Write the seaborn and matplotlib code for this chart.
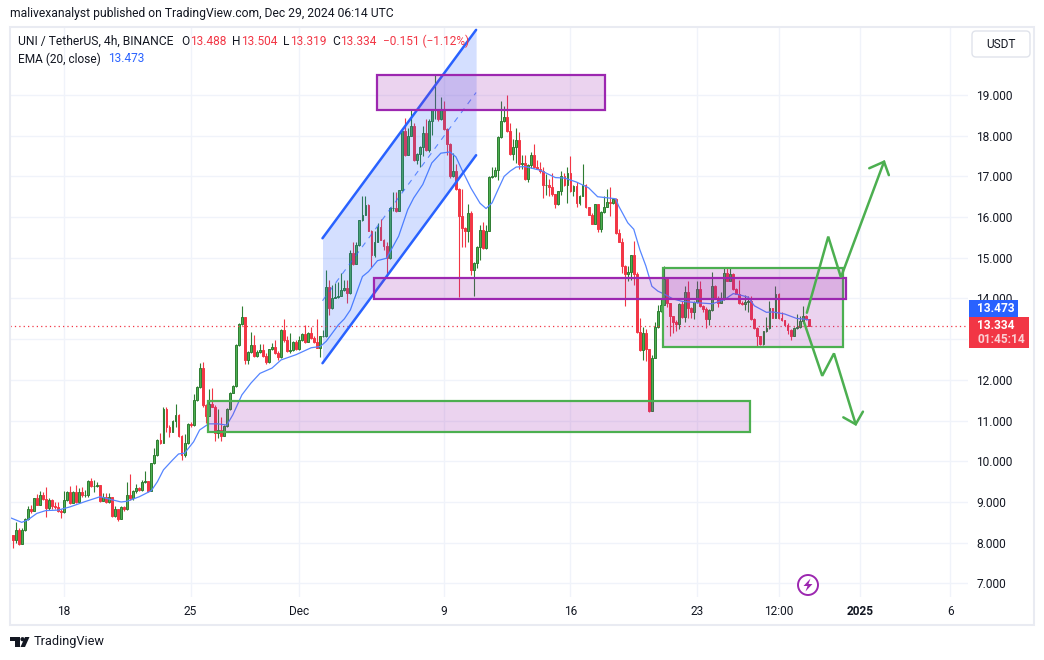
#### UNI / USDT 4h chart with drawn zones and channel
import matplotlib
matplotlib.use("Agg")
import matplotlib.pyplot as plt
from matplotlib.colors import to_rgba
from matplotlib.patches import Circle, FancyBboxPatch, Polygon, Rectangle
import numpy as np
import pandas as pd
import seaborn as sns

# candle values, one per 4h bar, oldest first
closes = [
    8.07, 8.31, 7.98, 8.31, 8.58, 8.82, 8.79, 9.09, 8.93, 9.17,
    9.07, 8.86, 9.05, 8.89, 8.87, 8.79, 8.75, 9.05, 9.25, 8.98,
    9.25, 9.00, 9.25, 9.16, 9.17, 9.51, 9.39, 9.39, 9.41, 9.03,
    9.12, 8.99, 9.12, 8.66, 8.82, 8.59, 8.88, 8.82, 9.16, 9.11,
    9.26, 9.34, 9.30, 9.50, 9.51, 9.28, 9.95, 10.15, 10.52, 10.46,
    11.28, 10.85, 10.73, 10.99, 11.14, 10.61, 10.16, 10.44, 10.91, 10.89,
    11.51, 11.82, 12.29, 11.38, 11.12, 11.41, 11.34, 10.70, 10.77, 10.62,
    10.87, 11.28, 11.69, 11.84, 12.85, 13.38, 13.54, 12.49, 12.69, 12.85,
    12.59, 12.69, 12.74, 12.59, 12.43, 12.75, 12.80, 12.67, 12.56, 13.22,
    12.97, 12.70, 12.74, 12.94, 12.75, 12.97, 13.13, 12.94, 13.15, 13.02,
    12.94, 12.79, 13.07, 13.08, 14.28, 13.76, 14.02, 14.03, 14.07, 14.20,
    14.26, 14.13, 15.11, 14.85, 15.31, 15.92, 16.06, 16.30, 15.67, 15.07,
    15.40, 15.75, 15.44, 15.28, 15.00, 16.22, 16.22, 16.16, 16.66, 18.11,
    17.53, 18.00, 18.25, 17.41, 17.56, 17.72, 18.07, 17.64, 18.36, 18.64,
    18.64, 18.41, 18.64, 18.16, 17.80, 17.00, 17.13, 16.69, 16.02, 15.74,
    15.67, 16.11, 14.69, 14.87, 15.26, 15.69, 15.23, 15.67, 16.98, 17.00,
    17.16, 17.97, 18.35, 18.46, 18.11, 17.54, 17.73, 17.90, 17.30, 17.34,
    16.93, 17.29, 17.52, 17.22, 17.19, 17.13, 16.78, 16.80, 16.75, 16.56,
    16.31, 16.64, 17.02, 16.78, 17.09, 16.64, 16.77, 16.34, 16.53, 16.80,
    16.24, 16.06, 15.84, 16.31, 15.70, 16.13, 16.25, 16.38, 16.35, 16.45,
    15.60, 15.40, 14.81, 14.61, 14.66, 15.06, 14.61, 13.17, 12.73, 13.15,
    12.75, 11.23, 12.54, 13.29, 13.70, 13.85, 14.48, 13.89, 13.56, 13.43,
    13.38, 13.87, 13.54, 14.16, 13.76, 13.66, 13.91, 14.24, 13.82, 13.74,
    13.49, 13.72, 14.31, 14.01, 13.90, 13.98, 14.62, 14.44, 14.60, 14.23,
    14.12, 13.89, 13.87, 13.91, 13.93, 13.49, 13.27, 13.07, 12.89, 13.20,
    13.27, 13.76, 13.53, 14.12, 13.51, 13.46, 13.35, 13.23, 13.07, 13.27,
    13.29, 13.44, 13.58, 13.488, 13.334,
]
highs = [
    8.18, 8.50, 8.35, 8.35, 8.60, 8.90, 8.92, 9.11, 9.19, 9.26,
    9.24, 9.37, 9.11, 9.07, 9.00, 9.01, 8.84, 9.26, 9.26, 9.39,
    9.28, 9.42, 9.35, 9.37, 9.30, 9.54, 9.60, 9.54, 9.48, 9.42,
    9.23, 9.23, 9.21, 9.07, 8.90, 8.84, 8.90, 8.90, 9.48, 9.70,
    9.29, 9.44, 9.36, 9.54, 9.75, 9.52, 9.97, 10.32, 10.56, 10.69,
    11.33, 11.33, 10.88, 11.02, 11.41, 11.16, 10.65, 10.66, 10.93, 10.96,
    11.66, 11.85, 12.41, 12.44, 11.41, 11.78, 11.80, 11.38, 11.28, 11.08,
    10.89, 11.30, 11.71, 11.87, 12.87, 13.39, 13.82, 13.54, 12.70, 13.18,
    13.10, 12.74, 12.89, 12.89, 12.66, 12.77, 12.90, 12.98, 12.70, 13.25,
    13.50, 13.07, 13.15, 12.95, 12.97, 13.08, 13.15, 13.35, 13.17, 13.31,
    13.07, 13.49, 13.08, 13.23, 14.69, 14.46, 14.33, 14.39, 14.41, 14.62,
    14.46, 14.46, 15.18, 15.38, 15.38, 15.93, 16.51, 16.53, 16.33, 15.69,
    15.65, 15.85, 15.95, 15.46, 15.40, 16.25, 16.62, 16.62, 16.67, 18.13,
    18.43, 18.19, 18.64, 18.30, 17.57, 17.74, 18.25, 18.41, 18.41, 18.66,
    19.48, 18.66, 18.95, 18.85, 18.18, 17.82, 17.57, 17.31, 16.71, 16.69,
    15.75, 16.33, 16.14, 14.89, 15.28, 15.81, 15.87, 15.81, 17.00, 17.23,
    17.23, 17.98, 18.85, 18.74, 18.99, 18.30, 17.91, 18.18, 18.10, 17.52,
    17.52, 17.30, 17.60, 17.79, 17.40, 17.35, 17.24, 17.07, 16.94, 17.09,
    16.57, 16.65, 17.12, 17.09, 17.24, 17.50, 16.79, 16.86, 16.55, 17.30,
    16.82, 16.25, 16.11, 16.33, 16.33, 16.15, 16.53, 16.68, 16.75, 16.47,
    16.48, 15.71, 15.49, 14.83, 14.80, 15.07, 15.42, 14.65, 13.52, 13.29,
    13.25, 12.76, 12.62, 13.43, 13.85, 13.98, 14.80, 14.53, 13.90, 13.58,
    13.46, 13.89, 13.93, 14.30, 14.42, 13.79, 13.93, 14.42, 14.42, 13.84,
    13.79, 13.74, 14.65, 14.33, 14.05, 14.17, 14.76, 14.76, 14.76, 14.62,
    14.25, 14.46, 13.93, 14.09, 14.05, 14.05, 13.51, 13.29, 13.08, 13.21,
    13.54, 13.95, 13.76, 14.30, 14.13, 13.67, 13.48, 13.39, 13.25, 13.29,
    13.62, 13.58, 13.82, 13.60, 13.504,
]
lows = [
    7.88, 8.00, 7.94, 7.98, 8.29, 8.56, 8.72, 8.79, 8.92, 8.93,
    9.05, 8.64, 8.80, 8.82, 8.82, 8.76, 8.61, 8.74, 9.03, 8.95,
    8.97, 8.97, 9.00, 9.13, 9.13, 9.13, 9.37, 9.25, 9.36, 9.01,
    9.02, 8.97, 8.98, 8.64, 8.64, 8.54, 8.59, 8.79, 8.80, 9.05,
    9.05, 9.23, 9.26, 9.28, 9.46, 9.25, 9.26, 9.93, 10.13, 10.43,
    10.44, 10.73, 10.59, 10.71, 10.85, 10.59, 10.02, 10.10, 10.43, 10.85,
    10.87, 11.49, 11.80, 11.34, 10.95, 11.11, 11.33, 10.51, 10.57, 10.51,
    10.62, 10.85, 11.26, 11.67, 11.82, 12.84, 13.36, 12.39, 12.39, 12.67,
    12.56, 12.57, 12.67, 12.57, 12.39, 12.41, 12.74, 12.64, 12.49, 12.54,
    12.92, 12.68, 12.67, 12.72, 12.74, 12.74, 12.95, 12.90, 12.93, 13.00,
    12.90, 12.78, 12.57, 13.05, 13.05, 13.60, 13.75, 14.00, 14.02, 14.05,
    14.18, 13.90, 14.11, 14.83, 14.84, 15.30, 15.90, 16.04, 15.66, 14.77,
    15.03, 15.39, 15.43, 15.20, 14.50, 14.98, 16.16, 16.13, 16.15, 16.64,
    17.51, 17.52, 17.98, 17.37, 17.31, 17.23, 17.49, 17.62, 17.59, 18.02,
    18.41, 18.35, 18.39, 18.15, 17.53, 16.96, 16.98, 16.67, 14.03, 15.26,
    15.26, 15.38, 14.58, 14.05, 14.75, 14.95, 15.21, 15.21, 15.77, 16.97,
    16.98, 16.90, 17.95, 18.34, 18.10, 17.52, 17.40, 17.32, 17.19, 17.17,
    16.91, 16.86, 17.20, 17.20, 17.17, 17.09, 16.47, 16.55, 16.52, 16.52,
    16.23, 16.30, 16.55, 16.76, 16.35, 16.62, 16.53, 16.25, 16.29, 16.52,
    16.22, 16.05, 15.82, 15.83, 15.63, 15.63, 16.11, 16.24, 16.02, 16.33,
    15.58, 15.38, 14.63, 13.81, 14.43, 14.45, 14.34, 13.15, 12.71, 12.48,
    12.46, 11.22, 11.23, 12.53, 13.27, 13.68, 13.84, 13.79, 13.07, 13.15,
    13.19, 13.25, 13.52, 13.43, 13.52, 13.52, 13.49, 13.89, 13.80, 13.68,
    13.27, 13.35, 13.70, 14.00, 13.79, 13.89, 13.97, 14.43, 14.44, 14.21,
    14.10, 13.87, 13.85, 13.72, 13.68, 13.48, 13.25, 12.84, 12.85, 12.86,
    13.18, 13.25, 13.51, 13.51, 13.49, 13.44, 13.34, 13.13, 12.97, 13.07,
    13.25, 13.27, 13.40, 13.46, 13.319,
]
first_open = 8.18

# EMA read at a subset of bars
ema_bars = [
    -1, 3, 5, 8, 11, 15, 19, 24, 29, 32, 36, 38, 42, 46, 48, 50, 53, 55, 57, 60,
    62, 65, 68, 71, 73, 76, 79, 82, 86, 89, 94, 99, 102, 104, 106, 108, 110, 112,
    116, 118, 121, 124, 128, 131, 133, 136, 139, 142, 145, 147, 149, 152, 155,
    157, 159, 161, 163, 165, 167, 170, 175, 180, 183, 187, 191, 194, 200, 201,
    204, 206, 208, 210, 212, 214, 216, 219, 222, 228, 232, 236, 239, 241, 244,
    246, 250, 252, 256, 260, 263, 264,
]
ema_values = [
    8.62, 8.50, 8.56, 8.72, 8.79, 8.80, 8.88, 9.01, 9.13, 9.07, 9.00, 9.02, 9.13,
    9.28, 9.50, 9.79, 10.03, 10.18, 10.20, 10.48, 10.77, 10.92, 10.92, 10.89,
    11.14, 11.63, 11.92, 12.16, 12.29, 12.49, 12.62, 12.79, 12.82, 12.95, 13.15,
    13.35, 13.50, 13.72, 14.54, 14.66, 14.93, 14.99, 15.53, 16.18, 16.47, 16.80,
    17.33, 17.57, 17.60, 17.48, 17.16, 16.71, 16.34, 16.21, 16.35, 16.68, 17.00,
    17.13, 17.23, 17.24, 17.15, 16.97, 16.96, 16.86, 16.72, 16.50, 16.45, 16.27,
    15.86, 15.70, 15.20, 14.80, 14.30, 14.18, 14.11, 13.99, 13.93, 13.89, 13.87,
    13.97, 14.12, 14.09, 14.03, 13.82, 13.66, 13.67, 13.62, 13.51, 13.49, 13.473,
]

# drawn objects, in (bar, price)
zones_purple = [(120.8, 196.5, 18.63, 19.49), (119.8, 276.4, 13.98, 14.50)]
zones_green = [(64.7, 244.6, 10.72, 11.49), (215.6, 275.5, 12.82, 14.75)]
channel_bars = [102.75, 153.7]
channel_upper = [15.48, 20.60]
channel_lower = [12.41, 17.52]
up_path_bars = [263.4, 270.5, 274.7, 289.0]
up_path_prices = [13.65, 15.52, 14.52, 17.36]
up_head_bars = [284.1, 289.0, 290.6]
up_head_prices = [17.20, 17.36, 17.03]
down_path_bars = [262.5, 268.5, 272.4, 279.6]
down_path_prices = [13.41, 12.10, 12.65, 10.91]
down_head_bars = [275.5, 279.6, 282.0]
down_head_prices = [11.08, 10.91, 11.22]

price_ticks = list(range(7, 20))
hidden_price_label = 13  # sits behind the last price badge
time_tick_bars = [17, 59, 95, 143, 185, 227, 254, 281, 311]
time_tick_labels = ["18", "25", "Dec", "9", "16", "23", "12:00", "2025", "6"]
last_price = 13.334
ema_last = 13.473

GREEN = "#4caf50"
GREEN_EDGE = "#2e7d32"
RED = "#f23645"
BLUE = "#2962ff"
PURPLE = "#9c27b0"
INK = "#131722"
GRID = "#f0f3fa"
W, H = 1044, 660

sns.set_theme(style="white")
plt.rcParams["font.family"] = ["Roboto", "DejaVu Sans"]

df = pd.DataFrame({"close": closes, "high": highs, "low": lows})
df["open"] = [first_open] + closes[:-1]
df["bar"] = np.arange(len(df))
up = df[df["close"] >= df["open"]]
down = df[df["close"] < df["open"]]

fig = plt.figure(figsize=(W / 100, H / 100), dpi=100, facecolor="white")
ax = fig.add_axes([10 / W, 1 - 597 / H, 958 / W, 570 / H])
ax.set_xlim(-0.9, 316.85)
ax.set_ylim(6.666, 20.67)

ax.set_xticks(time_tick_bars, time_tick_labels)
ax.set_yticks(price_ticks, ["" if p == hidden_price_label else f"{p:.3f}" for p in price_ticks])
ax.yaxis.tick_right()
ax.tick_params(axis="both", length=0, labelsize=8.6, labelcolor=INK)
ax.tick_params(axis="x", pad=5.5)
ax.tick_params(axis="y", pad=6)
ax.get_xticklabels()[time_tick_labels.index("2025")].set_fontweight("bold")
ax.grid(True, color=GRID, linewidth=1)
ax.set_axisbelow(True)
for spine in ax.spines.values():
    spine.set_visible(False)

# candles, red first so the darker green edges stay visible
ax.vlines(down["bar"], down["low"], down["high"], color=RED, linewidth=0.8, zorder=2)
ax.vlines(up["bar"], up["low"], up["high"], color=GREEN_EDGE, linewidth=0.8, zorder=2)
ax.bar(down["bar"], down["close"] - down["open"], bottom=down["open"], width=0.62,
       color=RED, edgecolor=RED, linewidth=0.7, zorder=3)
ax.bar(up["bar"], up["close"] - up["open"], bottom=up["open"], width=0.62,
       color=GREEN, edgecolor=GREEN_EDGE, linewidth=0.7, zorder=3)

sns.lineplot(x=ema_bars, y=ema_values, color="#5585ff", linewidth=0.9,
             estimator=None, sort=False, ax=ax, zorder=4)
ax.axhline(last_price, color=RED, linestyle=(0, (1, 2.5)), linewidth=0.9, zorder=4)

# channel
ax.fill_between(channel_bars, channel_lower, channel_upper, color=BLUE, alpha=0.2,
                linewidth=0, zorder=5)
for edge in (channel_upper, channel_lower):
    ax.plot(channel_bars, edge, color=BLUE, linewidth=1.8, zorder=6)
channel_mid = [(a + b) / 2 for a, b in zip(channel_upper, channel_lower)]
ax.plot(channel_bars, channel_mid, color=BLUE, linewidth=0.8, alpha=0.7,
        linestyle=(0, (5, 5)), zorder=6)

# zones
zone_fill = to_rgba(PURPLE, 0.2)
for zones, edge_colour in ((zones_green, GREEN), (zones_purple, PURPLE)):
    for left, right, bottom, top in zones:
        ax.add_patch(Rectangle((left, bottom), right - left, top - bottom,
                               facecolor=zone_fill, edgecolor=edge_colour,
                               linewidth=1.6, zorder=7))

# arrows
for xs, ys in ((up_path_bars, up_path_prices), (up_head_bars, up_head_prices),
               (down_path_bars, down_path_prices), (down_head_bars, down_head_prices)):
    ax.plot(xs, ys, color=GREEN, linewidth=1.8, solid_joinstyle="miter", zorder=8)

# page furniture is placed in pixels on a full size overlay
ov = fig.add_axes([0, 0, 1, 1], zorder=5)
ov.set_xlim(0, W)
ov.set_ylim(H, 0)
ov.axis("off")
ov.patch.set_alpha(0)

ov.add_patch(Rectangle((10, 27), 1024, 598, fill=False, edgecolor="#e9ebf2", linewidth=1.5))


def put(x, y, s, color=INK, size=8.6, **kwargs):
    ov.text(x, y, s, color=color, fontsize=size, va="center", **kwargs)


put(10, 14, "malivexanalyst published on TradingView.com, Dec 29, 2024 06:14 UTC", size=8.7)
put(18, 41.5, "UNI / TetherUS, 4h, BINANCE", size=8.75)
for x, s in ((181, "O"), (232, "H"), (283, "L"), (332, "C")):
    put(x, 41.5, s)
for x, s in ((190, "13.488"), (241, "13.504"), (290, "13.319"), (340, "13.334"),
             (383, "\u22120.151 (\u22121.12%)")):
    put(x, 41.5, s, color=RED)
put(18, 59, "EMA (20, close)")
put(108, 59, f"{ema_last:.3f}", color=BLUE)

# currency button
ov.add_patch(FancyBboxPatch((974, 33), 54, 22, boxstyle="round,pad=2,rounding_size=4",
                            facecolor="white", edgecolor="#e0e3eb", linewidth=1))
put(1001, 44.5, "USDT", ha="center")

# price badges
ov.add_patch(Rectangle((969, 300), 48.5, 16.7, facecolor=BLUE, edgecolor="none"))
put(977, 308.5, f"{ema_last:.3f}", color="white", fontweight="bold")
ov.add_patch(Rectangle((969, 317), 60, 30.7, facecolor=RED, edgecolor="none"))
put(977, 325.5, f"{last_price:.3f}", color="white", fontweight="bold")
put(977, 339.5, "01:45:14", color="#fbd0d4", fontweight="bold")

# lightning icon
ov.add_patch(Circle((808, 585), 10, facecolor="white", edgecolor=PURPLE, linewidth=1.4))
ov.add_patch(Polygon([(810.5, 578.5), (803.5, 586), (807.5, 586), (805.5, 591.5),
                      (812.5, 584), (808.5, 584)], facecolor=PURPLE, edgecolor="none"))

# logo
ov.add_patch(Polygon([(10, 637), (20, 637), (20, 647), (14.5, 647), (14.5, 641), (10, 641)],
                     facecolor=INK, edgecolor="none"))
ov.add_patch(Circle((22.5, 639.2), 2.1, facecolor=INK, edgecolor="none"))
ov.add_patch(Polygon([(25, 637), (29.5, 637), (25, 647), (20.5, 647)],
                     facecolor=INK, edgecolor="none"))
put(34, 642, "TradingView", size=9.2)

fig.savefig("out.png", dpi=100)
